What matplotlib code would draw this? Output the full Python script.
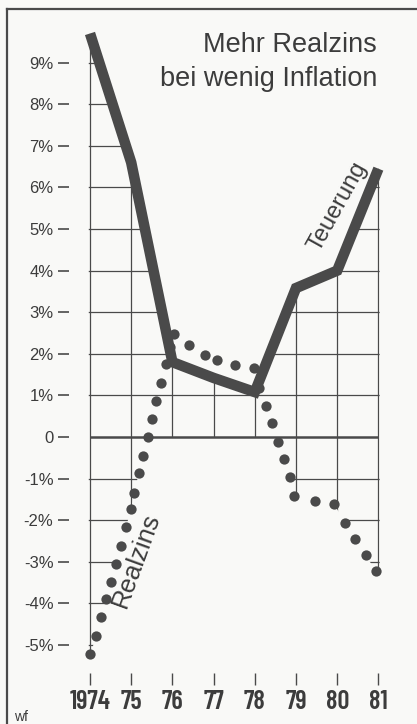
import numpy as np
import matplotlib
matplotlib.use("Agg")
import matplotlib.pyplot as plt
from matplotlib.path import Path

# ---- data ----
years = [1974, 1975, 1976, 1977, 1978, 1979, 1980, 1981]
year_labels = ["1974", "75", "76", "77", "78", "79", "80", "81"]
teuerung = [9.7, 6.6, 1.8, 1.42, 1.08, 3.58, 4.0, 6.45]

realzins_x = [1974.01, 1974.15, 1974.27, 1974.40, 1974.52, 1974.63, 1974.76, 1974.87,
              1975.00, 1975.08, 1975.18, 1975.29, 1975.40, 1975.51, 1975.61, 1975.73,
              1975.85, 1975.95, 1976.03, 1976.41, 1976.78, 1977.09, 1977.53, 1977.98,
              1978.10, 1978.26, 1978.42, 1978.56, 1978.70, 1978.85, 1978.96, 1979.47,
              1979.92, 1980.20, 1980.44, 1980.69, 1980.93]
realzins_y = [-5.22, -4.78, -4.33, -3.89, -3.49, -3.05, -2.61, -2.17,
              -1.73, -1.34, -0.87, -0.46, -0.01, 0.43, 0.87, 1.31,
              1.75, 2.17, 2.48, 2.22, 1.96, 1.85, 1.74, 1.65,
              1.17, 0.75, 0.33, -0.11, -0.54, -0.95, -1.41, -1.53,
              -1.61, -2.06, -2.45, -2.84, -3.21]

y_ticks = [-5, -4, -3, -2, -1, 0, 1, 2, 3, 4, 5, 6, 7, 8, 9]
y_labels = ["-5%", "-4%", "-3%", "-2%", "-1%", "0", "1%", "2%", "3%", "4%",
            "5%", "6%", "7%", "8%", "9%"]

title_lines = ["Mehr Realzins", "bei wenig Inflation"]

# ---- style ----
INK = "#4a4a4a"
TXT = "#3c3c3c"
BG = "#f9f9f7"
plt.rcParams['font.family'] = ['Liberation Sans', 'DejaVu Sans']

W, H = 417, 724
fig = plt.figure(figsize=(W / 100, H / 100), dpi=100, facecolor=BG)

x0, x1 = 1973.5, 1981.3
y0, y1 = -5.67, 10.0
px_left = 90 - 0.5 * 41.2
px_right = 90 + (x1 - 1974) * 41.2
py_bottom = 437 + 5.67 * 41.6
py_top = 437 - 10.0 * 41.6
ax = fig.add_axes([px_left / W, 1 - py_bottom / H,
                   (px_right - px_left) / W, (py_bottom - py_top) / H])
ax.set_facecolor('none')
ax.set_xlim(x0, x1)
ax.set_ylim(y0, y1)
for s in ax.spines.values():
    s.set_visible(False)

# clip regions: between 0 and Teuerung; between negative Realzins and 0
eps = 0.03
tx = np.array(years, float)
ty = np.array(teuerung, float)
pos_verts = [(tx[0] - eps, 0), (tx[0] - eps, ty[0])] + list(zip(tx, ty)) + \
            [(tx[-1] + eps, ty[-1]), (tx[-1] + eps, 0)]
rx = np.array(realzins_x)
ry = np.minimum(np.array(realzins_y), 0)
neg_verts = [(tx[0] - eps, 0), (tx[0] - eps, ry[0])] + list(zip(rx, ry)) + \
            [(tx[-1] + eps, ry[-1]), (tx[-1] + eps, 0)]
pos_path = Path(pos_verts + [pos_verts[0]], closed=True)
neg_path = Path(neg_verts + [neg_verts[0]], closed=True)

grid_y = [v for v in y_ticks if v != 0]
for clip in (pos_path, neg_path):
    hl = ax.hlines(grid_y, x0, x1, colors=INK, linewidth=0.9, zorder=1)
    vl = ax.vlines(years, y0, y1, colors=INK, linewidth=0.9, zorder=1)
    hl.set_clip_path(clip, ax.transData)
    vl.set_clip_path(clip, ax.transData)

# zero line
ax.hlines(0, years[0], years[-1], colors=INK, linewidth=1.8, zorder=2)

# Realzins dots
ax.plot(realzins_x, realzins_y, linestyle='none', marker='o', markersize=7.4,
        markerfacecolor=INK, markeredgecolor='none', zorder=3)

# Teuerung line
ax.plot(years, teuerung, color=INK, linewidth=7.6, solid_capstyle='butt',
        solid_joinstyle='miter', zorder=4)

# ticks
ax.set_yticks(y_ticks)
ax.set_yticklabels(y_labels)
ax.set_xticks(years)
ax.set_xticklabels(year_labels)
ax.tick_params(axis='y', direction='out', length=8, width=1.2, color=INK,
               pad=3.5, labelsize=12, labelcolor=TXT)
ax.tick_params(axis='x', direction='out', length=8.5, width=1.0, color=INK,
               pad=3.5, labelcolor=TXT)
for lab in ax.get_xticklabels():
    lab.set_fontfamily(['Barlow Condensed', 'DejaVu Sans'])
    lab.set_fontweight('semibold')
    lab.set_fontsize(19)

# series labels
ax.text(1974 + (338 - 90) / 41.2, (437 - 207) / 41.6, "Teuerung", rotation=61,
        ha='center', va='center', fontsize=17, color=TXT, zorder=5,
        rotation_mode='anchor')
ax.text(1974 + (136 - 90) / 41.2, (437 - 560) / 41.6, "Realzins", rotation=70,
        ha='center', va='center', fontsize=18.5, color=TXT, zorder=5,
        rotation_mode='anchor')

# title
fig.text(377 / W, 1 - 51.7 / H, title_lines[0], ha='right', va='baseline',
         fontsize=19.5, color=TXT)
fig.text(377 / W, 1 - 86 / H, title_lines[1], ha='right', va='baseline',
         fontsize=19.5, color=TXT)

# source mark
fig.text(14 / W, 1 - 721 / H, "wf", ha='left', va='baseline', fontsize=10,
         color=TXT)

# frame (top and left)
fig.add_artist(plt.Line2D([7 / W, 1.0], [1 - 9 / H, 1 - 9 / H], color=INK,
                          linewidth=1.6, transform=fig.transFigure))
fig.add_artist(plt.Line2D([7 / W, 7 / W], [1 - 9 / H, 0], color=INK,
                          linewidth=1.6, transform=fig.transFigure))

fig.savefig("out.png", dpi=100, facecolor=BG)
